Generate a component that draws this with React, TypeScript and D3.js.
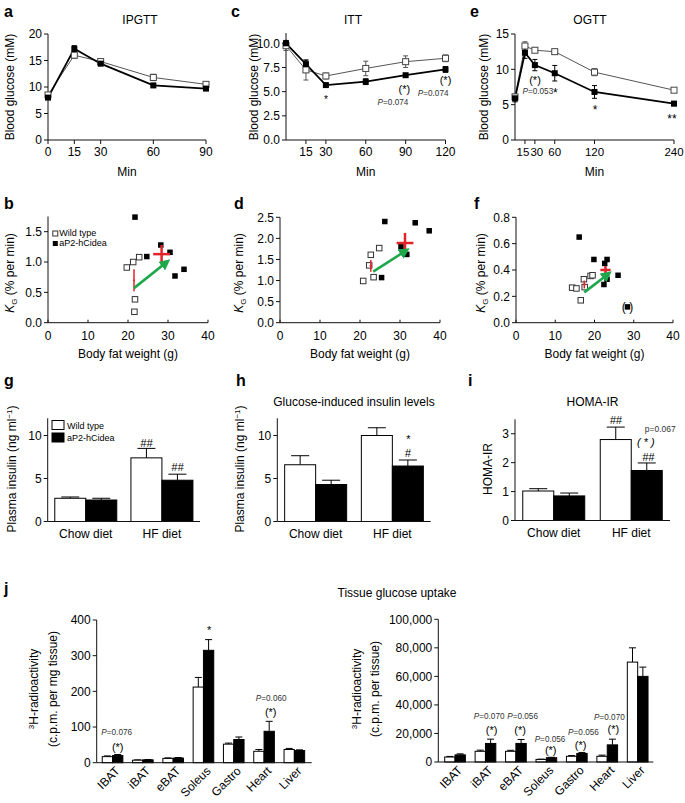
import React from "react";
import * as d3 from "d3";

const FONT = "'Liberation Sans', Arial, Helvetica, sans-serif";
const RED = "#e3232b";
const GREEN = "#1fa84b";

// ---------- Panel a: IPGTT ----------
const ipgttMin = [0, 15, 30, 60, 90];
const ipgttWT = [8.5, 16.0, 14.8, 11.8, 10.5];
const ipgttWTErr = [0.3, 0.6, 0.3, 0.6, 0.3];
const ipgttTG = [8.0, 17.2, 14.4, 10.3, 9.7];
const ipgttTGErr = [0.3, 0.6, 0.3, 0.3, 0.3];

// ---------- Panel c: ITT ----------
const ittMin = [0, 15, 30, 60, 90, 120];
const ittWT = [9.75, 7.25, 6.62, 7.4, 8.1, 8.45];
const ittWTErr = [0.5, 1.05, 0.3, 0.75, 0.6, 0.35];
const ittTG = [10.0, 7.85, 5.68, 6.03, 6.7, 7.3];
const ittTGErr = [0.3, 0.4, 0.15, 0.3, 0.15, 0.3];

// ---------- Panel e: OGTT ----------
const ogttMin = [0, 15, 30, 60, 120, 240];
const ogttWT = [6.1, 13.3, 12.7, 12.5, 9.6, 7.05];
const ogttWTErr = [0.4, 0.6, 0.3, 0.3, 0.5, 0.2];
const ogttTG = [5.9, 12.35, 10.6, 9.45, 6.8, 5.15];
const ogttTGErr = [0.5, 0.8, 0.8, 1.1, 0.9, 0.3];

// ---------- Scatter b ----------
const bWTx = [19.7, 21.3, 22.8, 21.75, 21.6];
const bWTy = [0.91, 1.0, 1.08, 0.385, 0.18];
const bTGx = [21.75, 24.7, 28.2, 30.5, 31.75, 34.0];
const bTGy = [1.74, 1.09, 1.28, 1.16, 0.77, 0.88];
const bMeans = [
  { x: 21.5, y: 0.7, ex: 0.25, ey: 0.18, w: 1.5 },
  { x: 28.4, y: 1.13, ex: 2.1, ey: 0.15, w: 2.5 },
];
const bArrow = [21.5, 0.57, 29.7, 1.0];

// ---------- Scatter d ----------
const dWTx = [20.8, 23.4, 22.3, 22.7, 24.8];
const dWTy = [0.99, 1.08, 1.36, 1.61, 1.77];
const dTGx = [25.4, 26.2, 30.25, 31.7, 33.8, 37.3];
const dTGy = [1.07, 2.4, 1.8, 1.62, 2.37, 2.18];
const dMeans = [
  { x: 22.7, y: 1.35, ex: 0.3, ey: 0.14, w: 1.5 },
  { x: 31.25, y: 1.89, ex: 2.1, ey: 0.24, w: 2.5 },
];
const dArrow = [23.3, 1.21, 31.5, 1.71];

// ---------- Scatter f ----------
const fWTx = [14.3, 15.4, 16.5, 17.3, 17.5, 19.0, 19.5];
const fWTy = [0.266, 0.26, 0.17, 0.33, 0.27, 0.355, 0.36];
const fTGx = [16.1, 19.85, 22.6, 23.2, 23.2, 22.4, 26.0, 28.4];
const fTGy = [0.65, 0.48, 0.45, 0.48, 0.33, 0.29, 0.36, 0.12];
const fMeans = [
  { x: 17.4, y: 0.29, ex: 0.3, ey: 0.03, w: 1.5 },
  { x: 22.8, y: 0.4, ex: 1.3, ey: 0.03, w: 2.5 },
];
const fArrow = [17.4, 0.23, 23.5, 0.37];

// ---------- Bars g, h, i ----------
const diets = ["Chow diet", "HF diet"];
const gWT = [2.7, 7.4];
const gWTErr = [0.15, 1.1];
const gTG = [2.5, 4.8];
const gTGErr = [0.2, 0.7];
const hWT = [6.6, 10.0];
const hWTErr = [1.05, 0.9];
const hTG = [4.3, 6.45];
const hTGErr = [0.5, 0.7];
const iWT = [1.02, 2.8];
const iWTErr = [0.08, 0.43];
const iTG = [0.85, 1.73];
const iTGErr = [0.1, 0.26];

// ---------- Tissue uptake j ----------
const tissues = ["IBAT", "iBAT", "eBAT", "Soleus", "Gastro", "Heart", "Liver"];
const mgWT = [17, 7, 12, 212, 52, 32, 37];
const mgWTErr = [2, 1, 1.5, 27, 3, 5, 3];
const mgTG = [20, 8, 13, 315, 65, 88, 34];
const mgTGErr = [3, 1, 1.5, 30, 7, 28, 2];
const totWT = [3500, 7500, 7500, 1800, 4000, 4000, 70000];
const totWTErr = [400, 800, 700, 200, 500, 800, 10000];
const totTG = [5000, 13000, 13000, 3000, 6000, 12000, 60000];
const totTGErr = [700, 3000, 2800, 300, 700, 4000, 6500];

function YAxis({ x, scale, ticks, fmt, top, fs = 12 }: any) {
  const r = scale.range();
  return (
    <g>
      <line x1={x} x2={x} y1={r[0]} y2={top ?? r[1]} stroke="#111" />
      {ticks.map((t: number) => (
        <g key={t}>
          <line x1={x - 4} x2={x} y1={scale(t)} y2={scale(t)} stroke="#111" />
          <text x={x - 6} y={scale(t)} dy="0.35em" textAnchor="end" fontSize={fs}>
            {fmt(t)}
          </text>
        </g>
      ))}
    </g>
  );
}

function RotLabel({ x, y, children, fs = 12 }: any) {
  return (
    <text transform={`translate(${x},${y}) rotate(-90)`} textAnchor="middle" dy="0.35em" fontSize={fs}>
      {children}
    </text>
  );
}

function PText({ x, y, text, fs = 8.2, anchor = "middle", fill = "#333" }: any) {
  const italic = text[0] === "P";
  return (
    <text x={x} y={y} dy="0.35em" textAnchor={anchor} fontSize={fs} fill={fill}>
      {italic ? (
        <>
          <tspan fontStyle="italic">P</tspan>
          {text.slice(1)}
        </>
      ) : (
        text
      )}
    </text>
  );
}

function LinePanel(p: any) {
  const x = d3.scaleLinear().domain(p.xDomain).range(p.xRange);
  const y = d3.scaleLinear().domain(p.yDomain).range(p.yRange);
  const line = (vals: number[]) =>
    d3
      .line<number>()
      .x((_, i) => x(p.mins[i]))
      .y((v) => y(v))(vals) as string;
  const y0 = p.yRange[0];
  const sq = 6;
  const errs = (vals: number[], err: number[], col: string) =>
    vals.map((v, i) => (
      <g key={i} stroke={col} strokeWidth={1}>
        <line x1={x(p.mins[i])} x2={x(p.mins[i])} y1={y(v - err[i])} y2={y(v + err[i])} />
        <line x1={x(p.mins[i]) - 2.5} x2={x(p.mins[i]) + 2.5} y1={y(v - err[i])} y2={y(v - err[i])} />
        <line x1={x(p.mins[i]) - 2.5} x2={x(p.mins[i]) + 2.5} y1={y(v + err[i])} y2={y(v + err[i])} />
      </g>
    ));
  return (
    <g>
      <text x={p.letterX} y={17} fontSize={16} fontWeight="bold">
        {p.letter}
      </text>
      <text x={p.titleX} y={24} textAnchor="middle" fontSize={12}>
        {p.title}
      </text>
      <YAxis x={p.xRange[0]} scale={y} ticks={p.yTicks} fmt={p.yFmt} top={p.yTop} />
      <line x1={p.xRange[0]} x2={p.xRange[1]} y1={y0} y2={y0} stroke="#111" />
      {p.xTicks.map((t: number, i: number) => (
        <g key={t}>
          <line x1={x(t)} x2={x(t)} y1={y0} y2={y0 + 4} stroke="#111" />
          <text
            x={x(t) + (p.xTickDx ? p.xTickDx[i] : 0)}
            y={y0 + 16}
            textAnchor="middle"
            fontSize={p.xTickFs ?? 12}
          >
            {t}
          </text>
        </g>
      ))}
      <text x={(p.xRange[0] + p.xRange[1]) / 2} y={176} textAnchor="middle" fontSize={12}>
        Min
      </text>
      <RotLabel x={p.yLabelX} y={87}>
        Blood glucose (mM)
      </RotLabel>
      <path d={line(p.wt)} fill="none" stroke="#555" strokeWidth={1} />
      <path d={line(p.tg)} fill="none" stroke="#000" strokeWidth={1.8} />
      {errs(p.wt, p.wtErr, "#555")}
      {errs(p.tg, p.tgErr, "#000")}
      {p.wt.map((v: number, i: number) => (
        <rect key={"w" + i} x={x(p.mins[i]) - sq / 2} y={y(v) - sq / 2} width={sq} height={sq} fill="#fff" stroke="#444" strokeWidth={1} />
      ))}
      {p.tg.map((v: number, i: number) => (
        <rect key={"t" + i} x={x(p.mins[i]) - sq / 2} y={y(v) - sq / 2} width={sq} height={sq} fill="#000" />
      ))}
      {p.notes.map((n: any, i: number) =>
        n.p ? (
          <PText key={i} x={x(n.m)} y={y(n.v)} text={n.t} anchor={n.anchor ?? "middle"} />
        ) : (
          <text key={i} x={x(n.m)} y={y(n.v)} dy="0.35em" textAnchor="middle" fontSize={n.fs ?? 11}>
            {n.t}
          </text>
        )
      )}
    </g>
  );
}

function KLabel({ x, y }: any) {
  return (
    <text transform={`translate(${x},${y}) rotate(-90)`} textAnchor="middle" dy="0.35em" fontSize={12}>
      <tspan fontStyle="italic">K</tspan>
      <tspan fontSize={8} dy={3}>
        G
      </tspan>
      <tspan dy={-3}> (% per min)</tspan>
    </text>
  );
}

function ScatterPanel(p: any) {
  const x = d3.scaleLinear().domain([0, 40]).range(p.xRange);
  const y = d3.scaleLinear().domain(p.yDomain).range(p.yRange);
  const y0 = p.yRange[0];
  const s = 5.5;
  const [ax1, ay1, ax2, ay2] = p.arrow;
  return (
    <g>
      <text x={p.letterX} y={209} fontSize={16} fontWeight="bold">
        {p.letter}
      </text>
      <YAxis x={p.xRange[0]} scale={y} ticks={p.yTicks} fmt={d3.format(".1f")} />
      <line x1={p.xRange[0]} x2={p.xRange[1]} y1={y0} y2={y0} stroke="#111" />
      {[0, 10, 20, 30, 40].map((t) => (
        <g key={t}>
          <line x1={x(t)} x2={x(t)} y1={y0} y2={y0 - 3} stroke="#111" />
          <text x={x(t)} y={y0 + 17} textAnchor="middle" fontSize={12}>
            {t}
          </text>
        </g>
      ))}
      <text x={(p.xRange[0] + p.xRange[1]) / 2} y={358} textAnchor="middle" fontSize={12}>
        Body fat weight (g)
      </text>
      <KLabel x={p.yLabelX} y={273} />
      {p.wtx.map((v: number, i: number) => (
        <rect key={"w" + i} x={x(v) - s / 2} y={y(p.wty[i]) - s / 2} width={s} height={s} fill="#fff" stroke="#333" strokeWidth={1} />
      ))}
      {p.tgx.map((v: number, i: number) => (
        <rect key={"t" + i} x={x(v) - s / 2} y={y(p.tgy[i]) - s / 2} width={s} height={s} fill="#000" />
      ))}
      {p.paren && (
        <text x={x(p.paren[0])} y={y(p.paren[1])} dy="0.35em" textAnchor="middle" fontSize={12}>
          {"(   )"}
        </text>
      )}
      {p.means.map((m: any, i: number) => (
        <g key={i} stroke={RED} strokeWidth={m.w}>
          <line x1={x(m.x - m.ex)} x2={x(m.x + m.ex)} y1={y(m.y)} y2={y(m.y)} />
          <line x1={x(m.x)} x2={x(m.x)} y1={y(m.y - m.ey)} y2={y(m.y + m.ey)} />
        </g>
      ))}
      <line
        x1={x(ax1)}
        y1={y(ay1)}
        x2={x(ax2)}
        y2={y(ay2)}
        stroke={GREEN}
        strokeWidth={2.6}
        markerEnd="url(#gh)"
      />
      {p.legend && (
        <g fontSize={9}>
          <rect x={x(1.2)} y={231} width={5} height={5} fill="#fff" stroke="#333" />
          <text x={x(2.8)} y={236}>
            Wild type
          </text>
          <rect x={x(1.2)} y={241} width={5} height={5} fill="#000" />
          <text x={x(2.8)} y={246}>
            aP2-hCidea
          </text>
        </g>
      )}
    </g>
  );
}

function BarPanel(p: any) {
  const xs = d3.scalePoint<string>().domain(diets).range(p.xRange).padding(0.5);
  const y = d3.scaleLinear().domain(p.yDomain).range(p.yRange);
  const y0 = p.yRange[0];
  const bw = 31;
  const bar = (cx: number, v: number, e: number, fill: string, key: string) => (
    <g key={key}>
      <line x1={cx + bw / 2} x2={cx + bw / 2} y1={y(v)} y2={y(v + e)} stroke="#000" />
      <line x1={cx + bw / 2 - 9} x2={cx + bw / 2 + 9} y1={y(v + e)} y2={y(v + e)} stroke="#000" />
      <rect x={cx} y={y(v)} width={bw} height={y0 - y(v)} fill={fill} stroke="#000" strokeWidth={1} />
    </g>
  );
  return (
    <g>
      <text x={p.letterX} y={386} fontSize={16} fontWeight="bold">
        {p.letter}
      </text>
      {p.title && (
        <text x={(p.xRange[0] + p.xRange[1]) / 2} y={406} textAnchor="middle" fontSize={12}>
          {p.title}
        </text>
      )}
      {diets.map((d, i) => (
        <g key={d}>
          {bar((xs(d) as number) - bw, p.wt[i], p.wtErr[i], "#fff", "w")}
          {bar(xs(d) as number, p.tg[i], p.tgErr[i], "#000", "t")}
          <text x={xs(d)} y={y0 + 16} textAnchor="middle" fontSize={12}>
            {d}
          </text>
        </g>
      ))}
      <YAxis x={p.xRange[0]} scale={y} ticks={p.yTicks} fmt={d3.format("d")} />
      <line x1={p.xRange[0]} x2={p.xRange[1]} y1={y0} y2={y0} stroke="#111" />
      <RotLabel x={p.yLabelX} y={469}>
        {p.yLabel === "ins" ? (
          <>
            Plasma insulin (ng ml
            <tspan fontSize={8} dy={-4}>
              −1
            </tspan>
            <tspan dy={4}>)</tspan>
          </>
        ) : (
          p.yLabel
        )}
      </RotLabel>
      {p.notes.map((n: any, i: number) =>
        n.p ? (
          <PText key={i} x={(xs(diets[n.c]) as number) + n.dx} y={y(n.v)} text={n.t} fs={8.5} />
        ) : (
          <text key={i} x={(xs(diets[n.c]) as number) + n.dx} y={y(n.v)} dy="0.35em" textAnchor="middle" fontSize={n.fs ?? 11} fontStyle="italic">
            {n.t}
          </text>
        )
      )}
      {p.legend && (
        <g fontSize={9}>
          <rect x={52} y={420.5} width={12} height={9} fill="#fff" stroke="#000" />
          <text x={67} y={428.5}>
            Wild type
          </text>
          <rect x={52} y={433} width={12} height={9} fill="#000" stroke="#000" />
          <text x={67} y={441}>
            aP2-hCidea
          </text>
        </g>
      )}
    </g>
  );
}

function TissuePanel(p: any) {
  const xb = d3.scaleBand<string>().domain(tissues).range(p.bandRange).padding(0);
  const y = d3.scaleLinear().domain(p.yDomain).range(p.yRange);
  const y0 = p.yRange[0];
  const bw = xb.bandwidth() * 0.34;
  const cx = (t: string) => (xb(t) as number) + xb.bandwidth() / 2;
  const bar = (x0: number, v: number, e: number, fill: string) => (
    <g>
      <line x1={x0 + bw / 2} x2={x0 + bw / 2} y1={y(v)} y2={y(v + e)} stroke="#000" />
      <line x1={x0 + bw / 2 - 3.5} x2={x0 + bw / 2 + 3.5} y1={y(v + e)} y2={y(v + e)} stroke="#000" />
      <rect x={x0} y={y(v)} width={bw} height={Math.max(0.5, y0 - y(v))} fill={fill} stroke="#000" strokeWidth={1} />
    </g>
  );
  return (
    <g>
      {tissues.map((t, i) => (
        <g key={t}>
          {bar(cx(t) - bw, p.wt[i], p.wtErr[i], "#fff")}
          {bar(cx(t), p.tg[i], p.tgErr[i], "#000")}
          <text
            transform={`translate(${cx(t) + 5},${y0 + 6}) rotate(-45)`}
            textAnchor="end"
            dy="0.35em"
            fontSize={12}
          >
            {t}
          </text>
        </g>
      ))}
      <YAxis x={p.axisX} scale={y} ticks={p.yTicks} fmt={p.fmt} />
      <line x1={p.axisX} x2={p.axisEnd} y1={y0} y2={y0} stroke="#111" />
      <text transform={`translate(${p.lab1X},689) rotate(-90)`} textAnchor="middle" dy="0.35em" fontSize={12}>
        <tspan fontSize={8} dy={-4}>
          3
        </tspan>
        <tspan dy={4}>H-radioactivity</tspan>
      </text>
      <RotLabel x={p.lab2X} y={689}>
        {p.lab2}
      </RotLabel>
      {p.notes.map((n: any, i: number) =>
        n.p ? (
          <PText key={i} x={cx(tissues[n.c]) + bw / 2 + n.dx} y={y(n.v)} text={n.t} fs={8.2} />
        ) : (
          <text key={i} x={cx(tissues[n.c]) + bw / 2 + n.dx} y={y(n.v)} dy="0.35em" textAnchor="middle" fontSize={n.fs ?? 11}>
            {n.t}
          </text>
        )
      )}
    </g>
  );
}

export default function App() {
  return (
    <svg
      width={685}
      height={803}
      style={{ position: "absolute", left: 0, top: 0, background: "#fff" }}
      fontFamily={FONT}
    >
      <defs>
        <marker id="gh" viewBox="0 0 10 10" refX="6" refY="5" markerWidth="11" markerHeight="11" markerUnits="userSpaceOnUse" orient="auto">
          <path d="M0,0 L10,5 L0,10 z" fill={GREEN} />
        </marker>
      </defs>
      <rect width={685} height={803} fill="#fff" />

      <LinePanel
        letter="a"
        letterX={4}
        title="IPGTT"
        titleX={140}
        mins={ipgttMin}
        wt={ipgttWT}
        wtErr={ipgttWTErr}
        tg={ipgttTG}
        tgErr={ipgttTGErr}
        xDomain={[0, 90]}
        xRange={[48, 206]}
        yDomain={[0, 20]}
        yRange={[140, 34]}
        yTicks={[0, 5, 10, 15, 20]}
        yFmt={d3.format("d")}
        xTicks={[0, 15, 30, 60, 90]}
        yLabelX={10}
        notes={[]}
      />
      <LinePanel
        letter="c"
        letterX={231}
        title="ITT"
        titleX={353}
        mins={ittMin}
        wt={ittWT}
        wtErr={ittWTErr}
        tg={ittTG}
        tgErr={ittTGErr}
        xDomain={[0, 120]}
        xRange={[286, 445.5]}
        yDomain={[0, 10]}
        yRange={[140, 43.3]}
        yTop={33}
        yTicks={[0, 2.5, 5, 7.5, 10]}
        yFmt={d3.format(".1f")}
        xTicks={[15, 30, 60, 90, 120]}
        yLabelX={254}
        notes={[
          { t: "*", m: 30, v: 4.2, fs: 10 },
          { t: "(*)", m: 89, v: 5.27 },
          { t: "P=0.074", m: 80.5, v: 3.93, p: true },
          { t: "(*)", m: 120, v: 6.2 },
          { t: "P=0.074", m: 110.7, v: 4.86, p: true },
        ]}
      />
      <LinePanel
        letter="e"
        letterX={470}
        title="OGTT"
        titleX={590}
        mins={ogttMin}
        wt={ogttWT}
        wtErr={ogttWTErr}
        tg={ogttTG}
        tgErr={ogttTGErr}
        xDomain={[0, 240]}
        xRange={[515, 674]}
        yDomain={[0, 15]}
        yRange={[140, 34]}
        yTicks={[0, 5, 10, 15]}
        yFmt={d3.format("d")}
        xTicks={[15, 30, 60, 120, 240]}
        xTickDx={[-2, 2, 0, 0, 0]}
        xTickFs={11.5}
        yLabelX={484}
        notes={[
          { t: "(*)", m: 30.2, v: 8.49 },
          { t: "P=0.053", m: 34.5, v: 6.93, p: true },
          { t: "*", m: 61, v: 6.7, fs: 12 },
          { t: "*", m: 120.8, v: 4.25, fs: 12 },
          { t: "**", m: 237, v: 2.97, fs: 12 },
        ]}
      />

      <ScatterPanel
        letter="b"
        letterX={4}
        xRange={[48, 208]}
        yDomain={[0, 1.75]}
        yRange={[322.7, 216.5]}
        yTicks={[0, 0.5, 1, 1.5]}
        yLabelX={10}
        wtx={bWTx}
        wty={bWTy}
        tgx={bTGx}
        tgy={bTGy}
        means={bMeans}
        arrow={bArrow}
        legend
      />
      <ScatterPanel
        letter="d"
        letterX={234}
        xRange={[280, 440]}
        yDomain={[0, 2.5]}
        yRange={[322.7, 217.3]}
        yTicks={[0, 0.5, 1, 1.5, 2, 2.5]}
        yLabelX={239}
        wtx={dWTx}
        wty={dWTy}
        tgx={dTGx}
        tgy={dTGy}
        means={dMeans}
        arrow={dArrow}
      />
      <ScatterPanel
        letter="f"
        letterX={474}
        xRange={[516, 673]}
        yDomain={[0, 0.8]}
        yRange={[322.7, 217.3]}
        yTicks={[0, 0.2, 0.4, 0.6, 0.8]}
        yLabelX={481}
        wtx={fWTx}
        wty={fWTy}
        tgx={fTGx}
        tgy={fTGy}
        means={fMeans}
        arrow={fArrow}
        paren={[28.4, 0.12]}
      />

      <BarPanel
        letter="g"
        letterX={4}
        xRange={[47.7, 200]}
        yDomain={[0, 12]}
        yRange={[521.5, 418.3]}
        yTicks={[0, 5, 10]}
        wt={gWT}
        wtErr={gWTErr}
        tg={gTG}
        tgErr={gTGErr}
        yLabel="ins"
        yLabelX={12}
        legend
        notes={[
          { t: "##", c: 1, dx: -15.5, v: 9.16 },
          { t: "##", c: 1, dx: 15.5, v: 6.34 },
        ]}
      />
      <BarPanel
        letter="h"
        letterX={236}
        title="Glucose-induced insulin levels"
        xRange={[277.3, 430.7]}
        yDomain={[0, 12]}
        yRange={[521.5, 418.3]}
        yTicks={[0, 5, 10]}
        wt={hWT}
        wtErr={hWTErr}
        tg={hTG}
        tgErr={hTGErr}
        yLabel="ins"
        yLabelX={240}
        notes={[
          { t: "*", c: 1, dx: 15.5, v: 9.6 },
          { t: "#", c: 1, dx: 15.5, v: 8.0 },
        ]}
      />
      <BarPanel
        letter="i"
        letterX={468}
        title="HOMA-IR"
        xRange={[515, 670]}
        yDomain={[0, 3.5]}
        yRange={[520.5, 419.3]}
        yTicks={[0, 1, 2, 3]}
        wt={iWT}
        wtErr={iWTErr}
        tg={iTG}
        tgErr={iTGErr}
        yLabel="HOMA-IR"
        yLabelX={488}
        notes={[
          { t: "##", c: 1, dx: -15.5, v: 3.47 },
          { t: "p=0.067", c: 1, dx: 29, v: 3.17, p: true },
          { t: "( * )", c: 1, dx: 14.5, v: 2.7 },
          { t: "##", c: 1, dx: 17, v: 2.2 },
        ]}
      />

      <text x={4} y={594} fontSize={16} fontWeight="bold">
        j
      </text>
      <text x={397} y={597} textAnchor="middle" fontSize={12}>
        Tissue glucose uptake
      </text>
      <TissuePanel
        bandRange={[97.4, 309.5]}
        axisX={96.7}
        axisEnd={311.7}
        yDomain={[0, 400]}
        yRange={[762.7, 620]}
        yTicks={[0, 100, 200, 300, 400]}
        fmt={d3.format("d")}
        wt={mgWT}
        wtErr={mgWTErr}
        tg={mgTG}
        tgErr={mgTGErr}
        lab1X={38}
        lab2X={53}
        lab2="(c.p.m. per mg tissue)"
        notes={[
          { t: "P=0.076", c: 0, dx: -1, v: 86.9, p: true },
          { t: "(*)", c: 0, dx: 0, v: 43.2 },
          { t: "*", c: 3, dx: 0.5, v: 372 },
          { t: "P=0.060", c: 5, dx: 2, v: 180.5, p: true },
          { t: "(*)", c: 5, dx: 1.5, v: 143 },
        ]}
      />
      <TissuePanel
        bandRange={[439.8, 652.9]}
        axisX={438.3}
        axisEnd={653.3}
        yDomain={[0, 100000]}
        yRange={[762, 619.3]}
        yTicks={[0, 20000, 40000, 60000, 80000, 100000]}
        fmt={d3.format(",")}
        wt={totWT}
        wtErr={totWTErr}
        tg={totTG}
        tgErr={totTGErr}
        lab1X={361}
        lab2X={375}
        lab2="(c.p.m. per tissue)"
        notes={[
          { t: "P=0.070", c: 1, dx: -1.5, v: 32236, p: true },
          { t: "(*)", c: 1, dx: 1, v: 22425 },
          { t: "P=0.056", c: 2, dx: 1.5, v: 32236, p: true },
          { t: "(*)", c: 2, dx: -1, v: 22425 },
          { t: "P=0.056", c: 3, dx: -1.5, v: 15907, p: true },
          { t: "(*)", c: 3, dx: -0.8, v: 8409 },
          { t: "P=0.056", c: 4, dx: 1.5, v: 20813, p: true },
          { t: "(*)", c: 4, dx: -1.3, v: 11913 },
          { t: "P=0.070", c: 5, dx: -3, v: 31324, p: true },
          { t: "(*)", c: 5, dx: 1, v: 22915 },
        ]}
      />
    </svg>
  );
}
